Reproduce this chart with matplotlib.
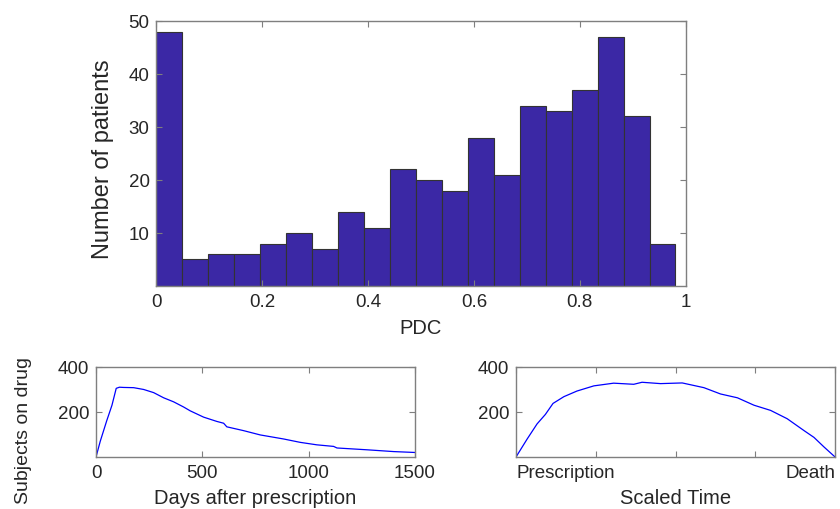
import numpy as np
from matplotlib import pyplot as plt

# histogram of PDC (20 bins from 0 to max PDC)
pdc_counts = [48, 5, 6, 6, 8, 10, 7, 14, 11, 22, 20, 18, 28, 21, 34, 33, 37, 47, 32, 8]
pdc_max = 0.981

# subjects on drug vs days after prescription
days = [0, 20, 50, 75, 95, 110, 130, 177, 224, 271, 318, 365, 412, 443, 506, 568, 600, 615,
        694, 772, 882, 960, 1038, 1117, 1133, 1273, 1399, 1500]
on_drug = [0, 70, 160, 230, 305, 310, 309, 308, 300, 286, 263, 245, 222, 205, 177, 158, 150, 134,
           117, 98, 80, 65, 54, 47, 40, 32, 24, 20]

# subjects on drug vs scaled time (prescription -> death)
scaled_t = [0, 0.035, 0.066, 0.092, 0.116, 0.150, 0.191, 0.244, 0.306, 0.369, 0.395, 0.453,
            0.521, 0.589, 0.641, 0.694, 0.746, 0.798, 0.850, 0.903, 0.934, 0.965, 1.0]
on_drug_scaled = [0, 80, 147, 189, 238, 268, 293, 316, 328, 323, 332, 326,
                  329, 308, 280, 263, 230, 207, 170, 117, 87, 45, 0]

plt.rcParams['font.family'] = ['Liberation Sans', 'DejaVu Sans']
plt.rcParams['font.size'] = 13.5
TXT = '#262626'
EDGE = '#7f7f7f'


def style(ax):
    for s in ax.spines.values():
        s.set_color(EDGE)
        s.set_linewidth(1.0)
    ax.tick_params(direction='in', top=True, right=True, colors=EDGE,
                   labelcolor=TXT, length=4, width=0.8, pad=5)


fig = plt.figure(figsize=(8.4, 5.1), dpi=100)

ax = fig.add_axes([0.1863, 0.4373, 0.6298, 0.5196])
edges = np.linspace(0, pdc_max, len(pdc_counts) + 1)
ax.bar(edges[:-1], pdc_counts, width=np.diff(edges), align='edge',
       color='#3b28a5', edgecolor='#333333', linewidth=0.8)
ax.set_xlim(0, 1)
ax.set_ylim(0, 50)
ax.set_xticks([0, 0.2, 0.4, 0.6, 0.8, 1])
ax.set_xticklabels(['0', '0.2', '0.4', '0.6', '0.8', '1'])
ax.set_yticks([10, 20, 30, 40, 50])
ax.set_xlabel('PDC', color=TXT, fontsize=14.5, labelpad=6)
ax.set_ylabel('Number of patients', color=TXT, fontsize=17)
ax.yaxis.set_label_coords(-0.08, 0.483)
style(ax)

ax1 = fig.add_axes([0.1143, 0.1020, 0.3798, 0.1765])
ax1.plot(days, on_drug, color='#0000ff', linewidth=0.9)
ax1.set_xlim(0, 1500)
ax1.set_ylim(0, 400)
ax1.set_xticks([0, 500, 1000, 1500])
ax1.set_yticks([200, 400])
ax1.set_xlabel('Days after prescription', color=TXT, fontsize=14.5, labelpad=5)
ax1.set_ylabel('Subjects on drug', color=TXT, fontsize=14)
ax1.yaxis.set_label_coords(-0.2, 0.31)
style(ax1)

ax2 = fig.add_axes([0.6143, 0.1020, 0.3798, 0.1765])
ax2.plot(scaled_t, on_drug_scaled, color='#0000ff', linewidth=0.9)
ax2.set_xlim(0, 1)
ax2.set_ylim(0, 400)
ax2.set_xticks([0, 0.25, 0.5, 0.75, 1])
ax2.set_xticklabels(['Prescription', '', '', '', 'Death'])
labels = ax2.get_xticklabels()
labels[0].set_ha('left')
labels[-1].set_ha('right')
ax2.set_yticks([200, 400])
ax2.set_xlabel('Scaled Time', color=TXT, fontsize=14.5, labelpad=5)
style(ax2)

fig.savefig('out.png', dpi=100)
